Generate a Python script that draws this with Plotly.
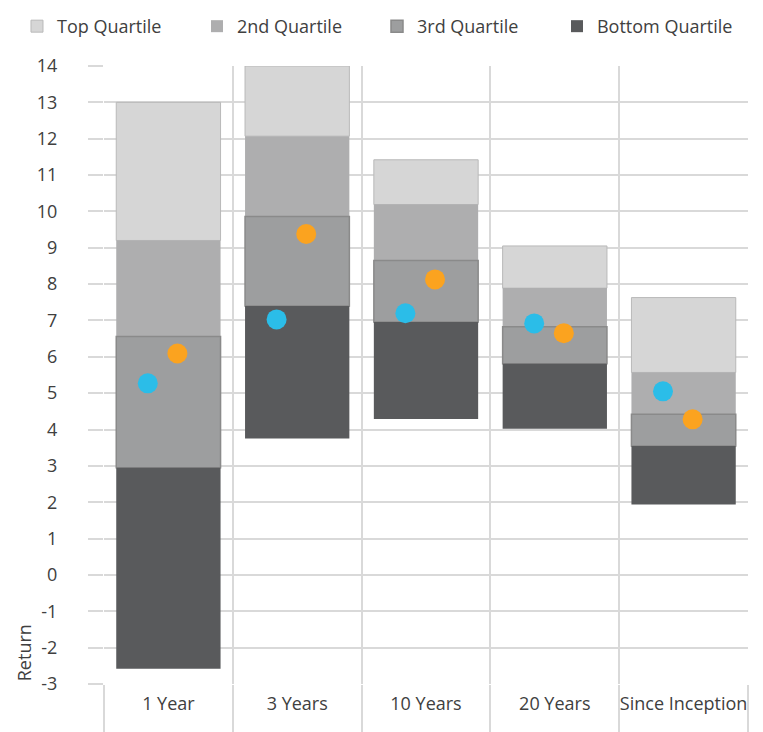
import plotly.graph_objects as go

categories = ["1 Year", "3 Years", "10 Years", "20 Years", "Since Inception"]
p_max = [13.0, 14.0, 11.42, 9.05, 7.63]
p_75 = [9.2, 12.07, 10.19, 7.89, 5.57]
p_50 = [6.56, 9.86, 8.65, 6.83, 4.42]
p_25 = [2.95, 7.4, 6.96, 5.81, 3.55]
p_min = [-2.58, 3.75, 4.29, 4.02, 1.94]
fund_blue = [5.27, 7.03, 7.2, 6.92, 5.05]
fund_orange = [6.09, 9.38, 8.13, 6.65, 4.28]
y_ticks = list(range(-3, 15))
y_ticktext = [str(v) for v in y_ticks]

idx = list(range(len(categories)))
GRID = "#d9d9d9"
TXT = "#404040"
FONT = "Open Sans"

fig = go.Figure()

series = [
    ("Top Quartile", p_75, p_max, "#d6d6d6", dict(color="#b9b9b9", width=1)),
    ("2nd Quartile", p_50, p_75, "#aeaeaf", dict(width=0)),
    ("3rd Quartile", p_25, p_50, "#9d9e9f", dict(color="#8a8a8a", width=1.5)),
    ("Bottom Quartile", p_min, p_25, "#595a5c", dict(width=0)),
]
for name, lo, hi, col, line in series:
    fig.add_trace(go.Bar(
        x=idx, base=lo, y=[h - l for h, l in zip(hi, lo)], name=name,
        width=0.81, marker=dict(color=col, line=line),
    ))

fig.add_trace(go.Scatter(
    x=[i - 0.16 for i in idx], y=fund_blue, mode="markers", showlegend=False,
    marker=dict(size=20, color="#2bbde8"),
))
fig.add_trace(go.Scatter(
    x=[i + 0.07 for i in idx], y=fund_orange, mode="markers", showlegend=False,
    marker=dict(size=20, color="#fba31f"),
))

fig.update_layout(
    width=755, height=724,
    margin=dict(l=96, r=15, t=58, b=48, autoexpand=False),
    paper_bgcolor="white", plot_bgcolor="white",
    barmode="overlay",
    font=dict(family=FONT, size=18, color=TXT),
    legend=dict(orientation="h", xref="paper", yref="paper",
                x=-0.1351, y=1.0939, xanchor="left", yanchor="top",
                font=dict(size=18, color=TXT), itemwidth=30,
                entrywidth=135, traceorder="normal"),
    xaxis=dict(
        range=[-0.5, 4.5], tickmode="array", tickvals=idx, ticktext=categories,
        showgrid=False, ticks="", zeroline=False, showline=False,
        ticklabelstandoff=7,
        minor=dict(tickmode="array", tickvals=[i - 0.5 for i in range(len(categories) + 1)],
                   ticks="outside", ticklen=48, tickwidth=2, tickcolor=GRID,
                   showgrid=True, gridcolor=GRID, gridwidth=2),
    ),
    yaxis=dict(
        range=[-3, 14], tickmode="array", tickvals=y_ticks, ticktext=y_ticktext,
        showgrid=True, gridcolor=GRID, gridwidth=2, zeroline=False, showline=False,
        ticks="outside", ticklen=15, tickwidth=2, tickcolor=GRID,
        ticklabelstandoff=27,
    ),
    annotations=[dict(text="Return", xref="paper", yref="paper", x=-0.124, y=0.05,
                      xanchor="center", yanchor="middle",
                      textangle=-90, showarrow=False, font=dict(size=18, color=TXT))],
)

fig.write_html("out.html")
